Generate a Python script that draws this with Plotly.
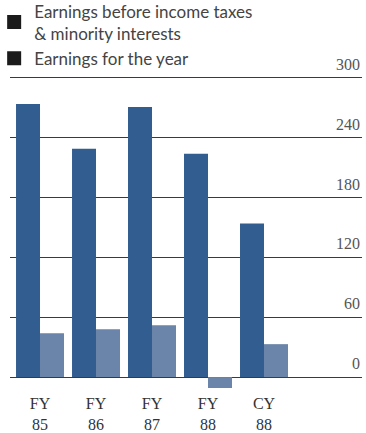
import plotly.graph_objects as go

# Fiscal periods and earnings (in millions)
periods = ["FY<br>85", "FY<br>86", "FY<br>87", "FY<br>88", "CY<br>88"]
pretax_earnings = [274, 229, 271, 224, 154]
net_earnings = [44, 48, 52, -11, 33]
y_ticks = [0, 60, 120, 180, 240, 300]

dark_blue = "#325d90"
light_blue = "#6a85a9"
serif = "Liberation Serif, Times New Roman, serif"
sans = "Lato, Open Sans, sans-serif"

fig = go.Figure()
fig.add_trace(go.Bar(x=periods, y=pretax_earnings, marker_color=dark_blue,
                     marker_line_width=0, showlegend=False))
fig.add_trace(go.Bar(x=periods, y=net_earnings, marker_color=light_blue,
                     marker_line_width=0, showlegend=False))

# Legend entries drawn as solid squares
fig.add_trace(go.Scatter(x=[None], y=[None], mode="markers",
                         marker=dict(symbol="square", size=14, color="#1b1b1b"),
                         name="Earnings before income taxes<br>& minority interests"))
fig.add_trace(go.Scatter(x=[None], y=[None], mode="markers",
                         marker=dict(symbol="square", size=14, color="#1b1b1b"),
                         name="Earnings for the year"))

# Value labels sit just above each gridline at the right edge
for v in y_ticks:
    fig.add_annotation(x=1, xref="paper", y=v, yref="y", text=str(v),
                       xanchor="right", yanchor="bottom", yshift=3,
                       showarrow=False,
                       font=dict(family=serif, size=16, color="#555555"))

fig.update_layout(
    width=366, height=433,
    margin=dict(l=10, r=4, t=68, b=41, autoexpand=False),
    paper_bgcolor="white", plot_bgcolor="white",
    barmode="group", bargap=0.143, bargroupgap=0,
    showlegend=True,
    legend=dict(x=-0.045, xref="paper", xanchor="left",
                y=1.23, yref="paper", yanchor="top",
                font=dict(family=sans, size=17, color="#444444"),
                bgcolor="rgba(0,0,0,0)", tracegroupgap=0,
                itemwidth=30),
    xaxis=dict(range=[-0.536, 5.75], showgrid=False, zeroline=False,
               showline=False, ticks="", tickvals=periods, tickangle=0,
               automargin=False,
               tickfont=dict(family=serif, size=16, color="#333333")),
    yaxis=dict(range=[-15, 310], tickvals=y_ticks, showticklabels=False,
               showgrid=True, gridcolor="#3a3a3a", gridwidth=1.3,
               zeroline=False, showline=False, ticks="", automargin=False),
)

fig.write_html("out.html")
